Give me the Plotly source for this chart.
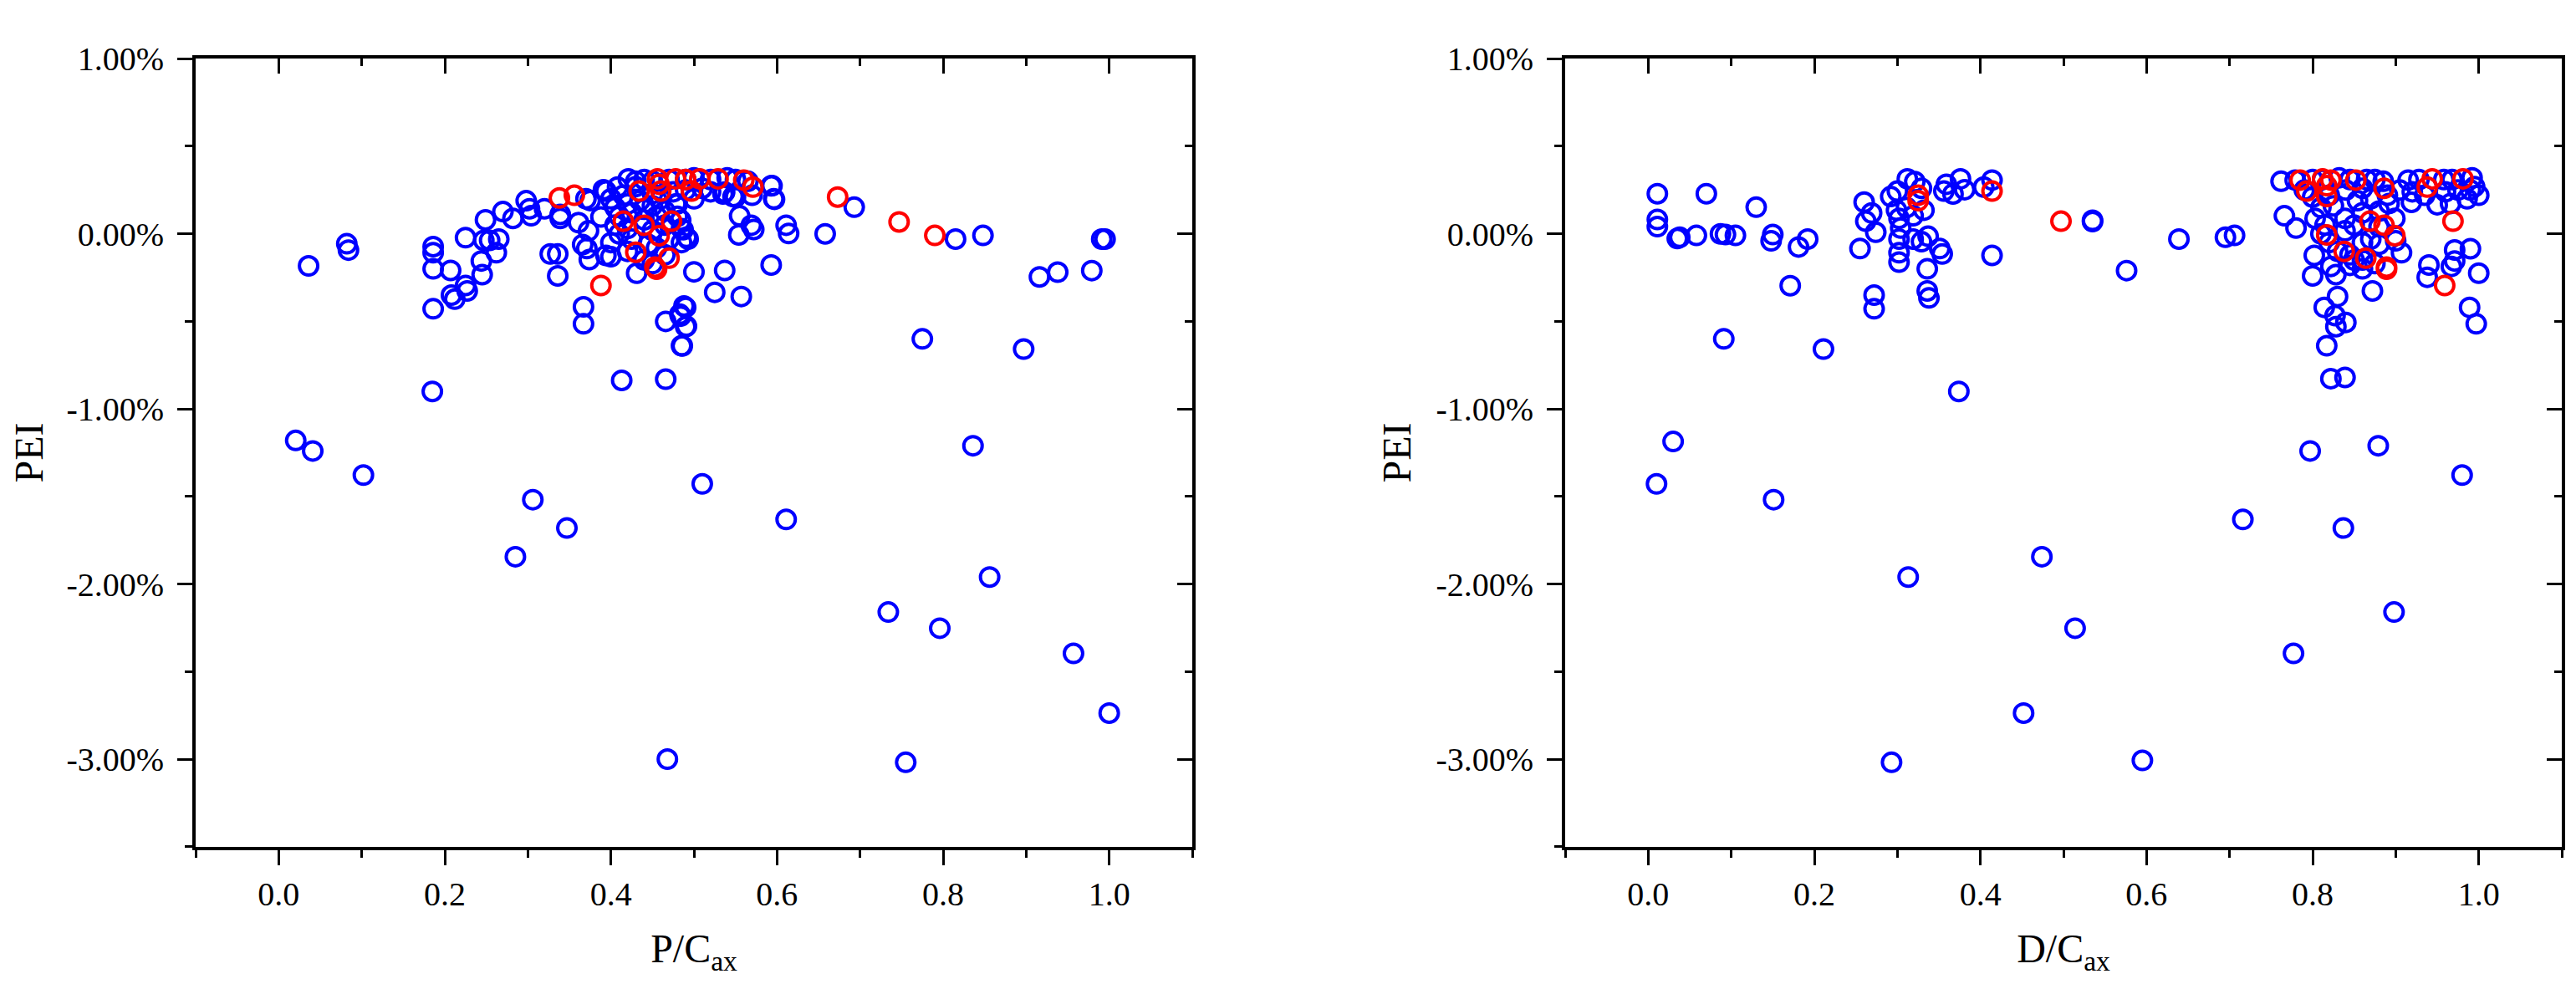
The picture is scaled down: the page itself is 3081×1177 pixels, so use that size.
import plotly.graph_objects as go

# ---------------- data (PEI in %) ----------------
pc_blue = [
    (0.036, -0.183), (0.082, -0.057), (0.084, -0.093), (0.0205, -1.18), (0.041, -1.24), (0.102, -1.378),
    (0.185, -0.90), (0.186, -0.073), (0.186, -0.108), (0.186, -0.20), (0.186, -0.428), (0.207, -0.209),
    (0.208, -0.35), (0.212, -0.373), (0.227, -0.326), (0.225, -0.295), (0.225, -0.022), (0.244, -0.155),
    (0.245, -0.233), (0.249, 0.08), (0.247, -0.037), (0.254, -0.037), (0.262, -0.108), (0.265, -0.03),
    (0.27, 0.127), (0.282, 0.088), (0.298, 0.189), (0.302, 0.143), (0.304, 0.103), (0.32, 0.143),
    (0.327, -0.115), (0.336, -0.115), (0.336, -0.24), (0.339, 0.111), (0.339, 0.088), (0.361, 0.064),
    (0.373, 0.017), (0.366, -0.061), (0.371, -0.084), (0.374, -0.147), (0.367, -0.417), (0.367, -0.514),
    (0.37, 0.20), (0.375, 0.19), (0.391, 0.252), (0.394, -0.123), (0.388, 0.096),
    (0.306, -1.518), (0.347, -1.68), (0.285, -1.844), (0.413, -0.837), (0.466, -0.50), (0.466, -0.83),
    (0.468, -3.00),
    (0.394, 0.244), (0.408, 0.267), (0.421, 0.314), (0.40, -0.131), (0.431, -0.225), (0.50, -0.217),
    (0.537, -0.209), (0.593, -0.178), (0.525, -0.334), (0.557, -0.358), (0.49, -0.42), (0.483, -0.459),
    (0.49, -0.53), (0.485, -0.639),
    (0.535, 0.228), (0.547, 0.213), (0.594, 0.275), (0.597, 0.197), (0.555, 0.103), (0.569, 0.049),
    (0.572, 0.025), (0.554, -0.006), (0.611, 0.049), (0.614, 0.002), (0.658, 0.0), (0.693, 0.152),
    (0.815, -0.03), (0.848, -0.009), (0.991, -0.03), (0.995, -0.03), (0.775, -0.60), (0.897, -0.658),
    (0.916, -0.246), (0.938, -0.219), (0.979, -0.21), (0.836, -1.21), (0.51, -1.428), (0.611, -1.631),
    (0.856, -1.96), (0.734, -2.16), (0.796, -2.252), (0.957, -2.396), (1.0, -2.737), (0.755, -3.018),
    (0.43, 0.30), (0.44, 0.31), (0.45, 0.30), (0.47, 0.31), (0.49, 0.31), (0.50, 0.32), (0.52, 0.31),
    (0.54, 0.32), (0.55, 0.31), (0.565, 0.30), (0.537, 0.238), (0.55, 0.21), (0.57, 0.22),
    (0.593, 0.274), (0.596, 0.20),
    (0.40, 0.20), (0.405, 0.15), (0.41, 0.10), (0.405, 0.05), (0.41, 0.0), (0.40, -0.05), (0.415, 0.22),
    (0.42, 0.17), (0.425, 0.12), (0.42, 0.03), (0.425, -0.03), (0.42, -0.10), (0.43, 0.27), (0.435, 0.19),
    (0.44, 0.14), (0.44, 0.08), (0.445, -0.06), (0.44, -0.15), (0.45, 0.23), (0.45, 0.16), (0.455, 0.10),
    (0.45, 0.02), (0.455, -0.08), (0.45, -0.17), (0.46, 0.20), (0.465, 0.13), (0.465, 0.05), (0.47, -0.03),
    (0.465, -0.12), (0.475, 0.24), (0.48, 0.17), (0.48, 0.10), (0.485, 0.03), (0.485, -0.05),
    (0.478, 0.17), (0.484, 0.077), (0.487, 0.023), (0.491, -0.02), (0.493, -0.03), (0.488, -0.412),
    (0.484, -0.47), (0.491, -0.527), (0.486, -0.64), (0.49, 0.25), (0.50, 0.20), (0.51, 0.26), (0.52, 0.24),
]
pc_red = [
    (0.338, 0.205), (0.356, 0.22), (0.388, -0.295), (0.415, 0.072), (0.43, -0.105), (0.434, 0.244),
    (0.44, 0.049), (0.455, -0.202), (0.453, -0.19), (0.456, 0.314), (0.458, 0.283), (0.46, 0.244),
    (0.458, -0.011), (0.47, -0.139), (0.473, 0.072), (0.478, 0.314), (0.497, 0.244), (0.507, 0.314),
    (0.529, 0.314), (0.56, 0.307), (0.571, 0.267), (0.49, 0.31), (0.673, 0.21), (0.747, 0.068), (0.79, -0.009),
]
dc_blue = [
    (0.011, 0.229), (0.011, 0.082), (0.011, 0.041), (0.03, -1.186), (0.01, -1.428), (0.035, -0.027),
    (0.038, -0.02), (0.058, -0.009), (0.07, 0.229), (0.087, 0.0), (0.093, -0.004), (0.105, -0.009),
    (0.091, -0.60), (0.13, 0.152), (0.148, -0.04), (0.15, -0.004), (0.151, -1.518), (0.171, -0.296),
    (0.181, -0.075), (0.192, -0.03), (0.211, -0.658),
    (0.26, 0.181), (0.269, 0.119), (0.262, 0.072), (0.274, 0.009), (0.255, -0.084), (0.272, -0.35),
    (0.272, -0.428), (0.292, 0.213), (0.30, 0.244), (0.299, 0.135), (0.302, 0.088), (0.304, 0.033),
    (0.302, -0.03), (0.302, -0.108), (0.302, -0.162), (0.312, 0.314), (0.321, 0.298), (0.329, 0.26),
    (0.311, 0.15), (0.319, 0.103), (0.332, 0.135), (0.319, -0.03), (0.329, -0.045), (0.337, -0.014),
    (0.351, -0.084), (0.354, -0.115), (0.336, -0.20), (0.336, -0.326), (0.338, -0.366), (0.359, 0.283),
    (0.367, 0.228), (0.376, 0.314), (0.381, 0.252), (0.356, 0.244), (0.404, 0.267), (0.414, 0.307),
    (0.414, -0.123), (0.374, -0.90), (0.313, -1.96), (0.293, -3.018), (0.474, -1.844), (0.514, -2.252),
    (0.452, -2.737),
    (0.535, 0.077), (0.535, 0.07), (0.576, -0.21), (0.639, -0.03), (0.695, -0.02), (0.706, -0.009),
    (0.797, -1.24), (0.879, -1.21), (0.98, -1.378), (0.716, -1.631), (0.837, -1.68), (0.898, -2.16),
    (0.777, -2.396), (0.595, -3.007),
    (0.762, 0.30), (0.779, 0.307), (0.80, 0.31), (0.812, 0.31), (0.832, 0.32), (0.845, 0.31),
    (0.865, 0.31), (0.875, 0.31), (0.885, 0.30), (0.915, 0.307), (0.928, 0.31), (0.958, 0.31),
    (0.968, 0.31), (0.992, 0.32), (0.995, 0.27),
    (0.766, 0.103), (0.78, 0.033), (0.803, 0.088), (0.802, -0.123), (0.80, -0.24), (0.822, -0.186),
    (0.828, -0.233), (0.814, -0.42), (0.83, -0.358), (0.827, -0.467), (0.84, -0.506), (0.828, -0.53),
    (0.817, -0.639), (0.822, -0.827), (0.839, -0.82), (0.854, 0.189), (0.839, 0.088), (0.839, 0.017),
    (0.825, 0.16), (0.872, -0.326), (0.907, -0.108), (0.899, 0.088), (0.892, 0.173), (0.919, 0.18),
    (0.95, 0.166), (0.966, 0.173), (0.986, 0.20), (1.0, 0.22), (0.94, -0.178), (0.938, -0.248),
    (0.971, -0.092), (0.971, -0.155), (0.967, -0.186), (0.99, -0.085), (1.0, -0.225), (0.989, -0.42),
    (0.997, -0.514),
    (0.85, -0.15), (0.86, -0.20), (0.845, -0.12), (0.83, -0.10), (0.86, -0.05), (0.87, -0.03),
    (0.88, -0.06), (0.88, 0.13), (0.86, 0.12), (0.87, 0.20), (0.85, 0.05), (0.81, 0.0), (0.815, 0.05),
    (0.82, 0.22), (0.84, 0.25), (0.86, 0.26), (0.89, 0.22), (0.905, 0.25), (0.92, 0.24), (0.935, 0.22),
    (0.96, 0.24), (0.975, 0.25), (0.99, 0.25), (0.82, -0.05), (0.845, -0.18), (0.86, -0.15),
    (0.875, -0.17), (0.90, -0.04), (0.88, 0.04), (0.81, 0.15), (0.80, 0.21), (0.79, 0.25),
]
dc_red = [
    (0.325, 0.22), (0.325, 0.189), (0.414, 0.244), (0.497, 0.072), (0.785, 0.307), (0.793, 0.244),
    (0.812, 0.314), (0.822, 0.307), (0.817, 0.275), (0.817, 0.213), (0.852, 0.307), (0.886, 0.26),
    (0.938, 0.267), (0.944, 0.314), (0.981, 0.314), (0.969, 0.072), (0.869, 0.072), (0.886, 0.049),
    (0.899, -0.011), (0.817, -0.006), (0.838, -0.10), (0.864, -0.139), (0.889, -0.202), (0.889, -0.19),
    (0.959, -0.295),
]

x_tickvals = [0.0, 0.2, 0.4, 0.6, 0.8, 1.0]
x_ticktext = ["0.0", "0.2", "0.4", "0.6", "0.8", "1.0"]
y_tickvals = [1, 0, -1, -2, -3]
y_ticktext = ["1.00%", "0.00%", "-1.00%", "-2.00%", "-3.00%"]
x_titles = ["P/C<sub>ax</sub>", "D/C<sub>ax</sub>"]
y_title = "PEI"

W, H = 3081, 1177
FONT = "Liberation Serif"
BLUE, RED = "#0000FF", "#FF0000"

fig = go.Figure()

def add_pts(pts, color, xa, ya):
    fig.add_trace(go.Scatter(
        x=[p[0] for p in pts], y=[p[1] for p in pts], mode="markers",
        marker=dict(symbol="circle-open", size=22, color=color, line=dict(width=4, color=color)),
        xaxis=xa, yaxis=ya, showlegend=False, hoverinfo="x+y"))

add_pts(pc_blue, BLUE, "x", "y")
add_pts(pc_red, RED, "x", "y")
add_pts(dc_blue, BLUE, "x2", "y2")
add_pts(dc_red, RED, "x2", "y2")
# dummy traces to activate frame (top/right) axes
fig.add_trace(go.Scatter(x=[None], y=[None], xaxis="x3", yaxis="y3", showlegend=False))
fig.add_trace(go.Scatter(x=[None], y=[None], xaxis="x4", yaxis="y4", showlegend=False))

xr = [-0.1, 1.1]
yr = [-3.5, 1.0]
ydom = [175.5 / H, 1136 / H]
xdoms = [[226 / W, 1418 / W], [1864 / W, 3056 / W]]
tickfont = dict(family=FONT, size=40, color="black")
titlefont = dict(family=FONT, size=48, color="black")
LW = 3.6

def xmain(dom, anchor, title):
    return dict(domain=dom, anchor=anchor, range=xr, showgrid=False, zeroline=False,
                showline=True, linecolor="black", linewidth=LW,
                tickmode="array", tickvals=x_tickvals, ticktext=x_ticktext,
                ticks="outside", ticklen=18, tickwidth=3.2, tickcolor="black",
                minor=dict(tickmode="linear", tick0=-0.1, dtick=0.1, ticks="outside", ticklen=9,
                           tickwidth=3.2, tickcolor="black"),
                tickfont=tickfont, ticklabelstandoff=0,
                title=dict(text=title, font=titlefont, standoff=28))

def ymain(anchor):
    return dict(domain=ydom, anchor=anchor, range=yr, showgrid=False, zeroline=False,
                showline=True, linecolor="black", linewidth=LW,
                tickmode="array", tickvals=y_tickvals, ticktext=y_ticktext,
                ticks="outside", ticklen=18, tickwidth=3.2, tickcolor="black",
                minor=dict(tickmode="linear", tick0=0, dtick=0.5, ticks="outside", ticklen=9,
                           tickwidth=3.2, tickcolor="black"),
                tickfont=tickfont, ticklabelstandoff=8,
                title=dict(text=y_title, font=titlefont, standoff=16))

def xtop(over, anchor):
    return dict(overlaying=over, side="top", anchor=anchor, range=xr, showgrid=False, zeroline=False,
                showline=True, linecolor="black", linewidth=LW, showticklabels=False,
                tickmode="array", tickvals=x_tickvals,
                ticks="inside", ticklen=18, tickwidth=3.2, tickcolor="black",
                minor=dict(tickmode="linear", tick0=-0.1, dtick=0.1, ticks="inside", ticklen=9,
                           tickwidth=3.2, tickcolor="black"))

def yright(over, anchor):
    return dict(overlaying=over, side="right", anchor=anchor, range=yr, showgrid=False, zeroline=False,
                showline=True, linecolor="black", linewidth=LW, showticklabels=False,
                tickmode="array", tickvals=y_tickvals,
                ticks="inside", ticklen=18, tickwidth=3.2, tickcolor="black",
                minor=dict(tickmode="linear", tick0=0, dtick=0.5, ticks="inside", ticklen=9,
                           tickwidth=3.2, tickcolor="black"))

fig.update_layout(
    width=W, height=H, margin=dict(l=0, r=0, t=0, b=0),
    paper_bgcolor="white", plot_bgcolor="white",
    xaxis=xmain(xdoms[0], "y", x_titles[0]),
    yaxis=ymain("x"),
    xaxis2=xmain(xdoms[1], "y2", x_titles[1]),
    yaxis2=ymain("x2"),
    xaxis3=xtop("x", "y"),
    yaxis3=yright("y", "x"),
    xaxis4=xtop("x2", "y2"),
    yaxis4=yright("y2", "x2"),
)

fig.write_html("out.html")
